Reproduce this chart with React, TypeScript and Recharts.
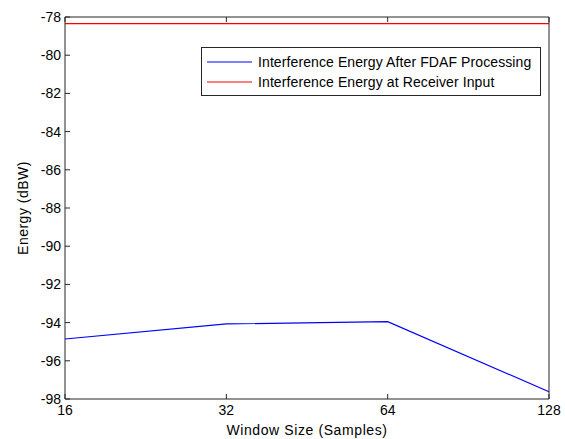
import { LineChart, Line, XAxis, YAxis, Legend } from 'recharts';

const windowSizes = ['16', '32', '64', '128'];
const fdafEnergy = [-94.86, -94.07, -93.95, -97.62];
const receiverEnergy = [-78.35, -78.35, -78.35, -78.35];
const yTicks = [-98, -96, -94, -92, -90, -88, -86, -84, -82, -80, -78];

const data = windowSizes.map((size, i) => ({
  size,
  fdaf: fdafEnergy[i],
  receiver: receiverEnergy[i],
}));

const FONT = '"Liberation Sans", Arial, sans-serif';
const AXIS = '#262626';

const LeftTick = (props: any) => {
  const { x, y, payload } = props;
  return (
    <g>
      <line x1={x + 4} x2={x + 9} y1={y} y2={y} stroke={AXIS} />
      <text x={x} y={y} dy="0.36em" textAnchor="end" fontSize={14} fontFamily={FONT} fill="#000">
        {payload.value}
      </text>
    </g>
  );
};

const RightTick = (props: any) => {
  const { x, y } = props;
  return <line x1={x - 5} x2={x} y1={y} y2={y} stroke={AXIS} />;
};

const BottomTick = (props: any) => {
  const { x, y, payload } = props;
  return (
    <g>
      <line x1={x} x2={x} y1={y - 6} y2={y - 11} stroke={AXIS} />
      <text x={x} y={y} dy="0.71em" textAnchor="middle" fontSize={14} fontFamily={FONT} fill="#000">
        {payload.value}
      </text>
    </g>
  );
};

const TopTick = (props: any) => {
  const { x, y } = props;
  return <line x1={x} x2={x} y1={y} y2={y + 5} stroke={AXIS} />;
};

const LegendBox = (props: any) => {
  const { payload } = props;
  return (
    <div
      style={{
        width: 338,
        border: `1px solid ${AXIS}`,
        background: '#fff',
        padding: '4px 0 3px 0',
        fontFamily: FONT,
        fontSize: 14,
        letterSpacing: 0.1,
        color: '#000',
      }}
    >
      {(payload || []).map((entry: any) => (
        <div key={entry.value} style={{ display: 'flex', alignItems: 'center', height: 20 }}>
          <svg width={56} height={20}>
            <line x1={5} x2={50} y1={10} y2={10} stroke={entry.color} />
          </svg>
          <span>{entry.value}</span>
        </div>
      ))}
    </div>
  );
};

export default function App() {
  return (
    <div style={{ position: 'absolute', left: 0, top: 0, width: 565, height: 439, background: '#fff' }}>
      <LineChart width={565} height={439} data={data} margin={{ top: 0, right: 0, bottom: 0, left: 0 }}>
        <XAxis
          dataKey="size"
          type="category"
          interval={0}
          padding={{ left: 0, right: 0 }}
          height={40}
          stroke={AXIS}
          tickSize={0}
          tickMargin={6}
          tick={<BottomTick />}
          label={{
            value: 'Window Size (Samples)',
            position: 'insideBottom',
            offset: 4,
            fontSize: 14,
            fontFamily: FONT,
            fill: '#000',
            style: { letterSpacing: 0.6 },
          }}
        />
        <XAxis
          xAxisId="top"
          dataKey="size"
          type="category"
          orientation="top"
          interval={0}
          padding={{ left: 0, right: 0 }}
          height={17}
          stroke={AXIS}
          tickSize={0}
          tickMargin={0}
          tick={<TopTick />}
        />
        <YAxis
          type="number"
          domain={[-98, -78]}
          ticks={yTicks}
          interval={0}
          width={65}
          stroke={AXIS}
          tickSize={0}
          tickMargin={4}
          tick={<LeftTick />}
          label={{
            value: 'Energy (dBW)',
            angle: -90,
            position: 'insideLeft',
            offset: 23,
            fontSize: 14,
            fontFamily: FONT,
            fill: '#000',
            style: { textAnchor: 'middle', letterSpacing: 0.5 },
          }}
        />
        <YAxis
          yAxisId="right"
          orientation="right"
          type="number"
          domain={[-98, -78]}
          ticks={yTicks}
          interval={0}
          width={16}
          stroke={AXIS}
          tickSize={0}
          tickMargin={0}
          tick={<RightTick />}
        />
        <Legend
          layout="vertical"
          align="center"
          verticalAlign="middle"
          content={<LegendBox />}
          wrapperStyle={{ position: 'absolute', left: 201, top: 47, width: 340 }}
        />
        <Line
          type="linear"
          dataKey="fdaf"
          name="Interference Energy After FDAF Processing"
          stroke="#0000ff"
          strokeWidth={1.2}
          dot={false}
          isAnimationActive={false}
        />
        <Line
          type="linear"
          dataKey="receiver"
          name="Interference Energy at Receiver Input"
          stroke="#ff0000"
          strokeWidth={1.2}
          dot={false}
          isAnimationActive={false}
        />
      </LineChart>
    </div>
  );
}
